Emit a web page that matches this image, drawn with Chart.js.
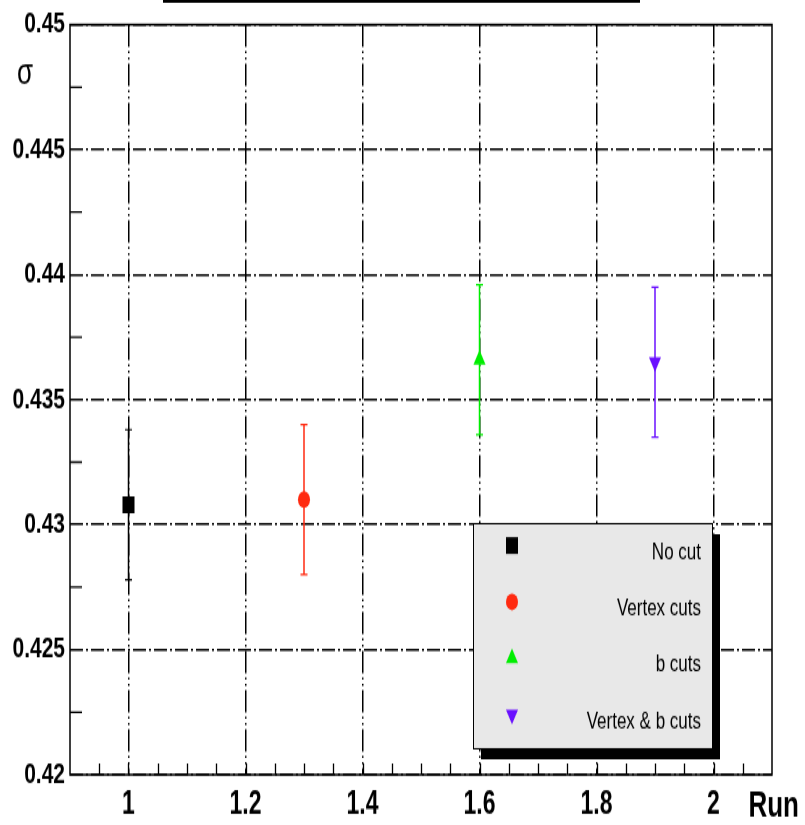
<!DOCTYPE html>
<html>
<head>
<meta charset="utf-8">
<script src="https://cdn.jsdelivr.net/npm/chart.js@4/dist/chart.umd.min.js"></script>
<style>
  html, body { margin: 0; padding: 0; background: #fff; }
  #wrap { width: 805px; height: 825px; position: relative; }
  /* the reference is vertically stretched, so draw flat and stretch the canvas */
  #sigmaChart { position: absolute; left: 0; top: 0; transform: scaleY(1.3983); transform-origin: 0 0; }
</style>
</head>
<body>
<div id="wrap"><canvas id="sigmaChart" width="805" height="590"></canvas></div>
<script>
// ---- data ----
const runLabels = ['No cut', 'Vertex cuts', 'b cuts', 'Vertex & b cuts'];
const runX = [1.0, 1.3, 1.6, 1.9];
const sigma = [0.4308, 0.4310, 0.4366, 0.4365];
const sigmaErr = [0.0030, 0.0030, 0.0030, 0.0030];

const xTicks = [1, 1.2, 1.4, 1.6, 1.8, 2];
const xTickLabels = ['1', '1.2', '1.4', '1.6', '1.8', '2'];
const yTicks = [0.42, 0.425, 0.43, 0.435, 0.44, 0.445, 0.45];
const yTickLabels = ['0.42', '0.425', '0.43', '0.435', '0.44', '0.445', '0.45'];

// ---- styles ----
const seriesColors = ['#000000', '#ff2a10', '#00ee00', '#6a10ff'];
const seriesStyles = ['rect', 'circle', 'triangle', 'triangle'];
const seriesRotation = [0, 0, 0, 180];
const seriesRadius = [8.5, 6, 7, 7];

const FONT = '"Liberation Sans", Arial, Helvetica, sans-serif';
const GRID_DASH_H = [13, 3, 2, 3];
const GRID_DASH_V = [16, 3, 1.5, 3, 1.5, 3];

function drawMarker(ctx, i, x, y) {
    const r = seriesRadius[i];
    ctx.save();
    ctx.fillStyle = seriesColors[i];
    ctx.beginPath();
    if (seriesStyles[i] === 'rect') {
        const h = Math.SQRT1_2 * r;
        ctx.rect(x - h, y - h, 2 * h, 2 * h);
    } else if (seriesStyles[i] === 'circle') {
        ctx.arc(x, y, r, 0, Math.PI * 2);
    } else {
        let a = seriesRotation[i] * Math.PI / 180;
        ctx.moveTo(x + Math.sin(a) * r, y - Math.cos(a) * r);
        for (let k = 0; k < 2; k++) {
            a += Math.PI * 2 / 3;
            ctx.lineTo(x + Math.sin(a) * r, y - Math.cos(a) * r);
        }
        ctx.closePath();
    }
    ctx.fill();
    ctx.restore();
}

// error bars with small caps
const errorBars = {
    id: 'errorBars',
    beforeDatasetsDraw(chart) {
        const ctx = chart.ctx;
        const yScale = chart.scales.y;
        chart.data.datasets.forEach((ds, di) => {
            const meta = chart.getDatasetMeta(di);
            meta.data.forEach((pt, j) => {
                const v = ds.data[j].y;
                const e = ds.errors[j];
                const yTop = yScale.getPixelForValue(v + e);
                const yBot = yScale.getPixelForValue(v - e);
                ctx.save();
                ctx.strokeStyle = ds.borderColor;
                ctx.lineWidth = 1.5;
                ctx.beginPath();
                ctx.moveTo(pt.x, yTop);
                ctx.lineTo(pt.x, yBot);
                ctx.stroke();
                ctx.lineWidth = 1.2;
                ctx.beginPath();
                ctx.moveTo(pt.x - 3.5, yTop);
                ctx.lineTo(pt.x + 3.5, yTop);
                ctx.moveTo(pt.x - 3.5, yBot);
                ctx.lineTo(pt.x + 3.5, yBot);
                ctx.stroke();
                ctx.restore();
            });
        });
    }
};

// frame, minor ticks, axis titles, legend box
const decorations = {
    id: 'decorations',
    afterDraw(chart) {
        const ctx = chart.ctx;
        const a = chart.chartArea;
        const xs = chart.scales.x, ys = chart.scales.y;
        ctx.save();

        // minor ticks
        ctx.strokeStyle = '#000';
        ctx.lineWidth = 1.3;
        ctx.beginPath();
        for (let v = 0.95; v < 2.1; v += 0.05) {
            const px = Math.round(xs.getPixelForValue(v)) + 0.5;
            ctx.moveTo(px, a.bottom);
            ctx.lineTo(px, a.bottom - 8);
        }
        for (let v = 0.4225; v < 0.45; v += 0.005) {
            const py = ys.getPixelForValue(v);
            ctx.moveTo(a.left, py);
            ctx.lineTo(a.left + 12, py);
        }
        ctx.stroke();

        // frame
        ctx.lineWidth = 1.5;
        ctx.strokeRect(a.left, a.top, a.right - a.left, a.bottom - a.top);

        // bottom edge of the (cropped) title box
        ctx.fillStyle = '#000';
        ctx.fillRect(163, 0, 477, 2);

        // axis titles
        ctx.fillStyle = '#000';
        ctx.font = '26px ' + FONT;
        ctx.textAlign = 'center';
        ctx.textBaseline = 'middle';
        ctx.fillText('σ', 25, 53);
        ctx.font = 'bold 26px ' + FONT;
        ctx.textAlign = 'right';
        ctx.textBaseline = 'alphabetic';
        ctx.fillText('Run', 799, 584);

        // legend
        const L = { x: 473, y: 374, w: 239, h: 161 };
        ctx.fillStyle = '#000';
        ctx.fillRect(L.x + 8, L.y + 8, L.w, L.h);
        ctx.fillStyle = '#e8e8e8';
        ctx.fillRect(L.x, L.y, L.w, L.h);
        ctx.lineWidth = 1;
        ctx.strokeStyle = '#000';
        ctx.strokeRect(L.x + 0.5, L.y + 0.5, L.w, L.h);
        ctx.font = '17px ' + FONT;
        ctx.textAlign = 'right';
        ctx.textBaseline = 'middle';
        const rowH = L.h / runLabels.length;
        runLabels.forEach((label, i) => {
            const cy = L.y + rowH * (i + 0.5);
            drawMarker(ctx, i, 512, cy - 4);
            ctx.fillStyle = '#000';
            ctx.fillText(label, 701, cy + 1);
        });
        ctx.restore();
    }
};

const datasets = runLabels.map((label, i) => ({
    label: label,
    data: [{ x: runX[i], y: sigma[i] }],
    errors: [sigmaErr[i]],
    borderColor: seriesColors[i],
    backgroundColor: seriesColors[i],
    pointStyle: seriesStyles[i],
    rotation: seriesRotation[i],
    pointRadius: seriesRadius[i],
    pointBorderWidth: 0,
    pointHoverRadius: seriesRadius[i],
    showLine: false
}));

new Chart(document.getElementById('sigmaChart'), {
    type: 'scatter',
    data: { datasets: datasets },
    plugins: [errorBars, decorations],
    options: {
        responsive: false,
        animation: false,
        layout: { padding: { top: 15, right: 33, left: 0, bottom: 0 } },
        plugins: {
            legend: { display: false },
            tooltip: { enabled: false }
        },
        scales: {
            x: {
                type: 'linear',
                min: 0.9,
                max: 2.1,
                afterBuildTicks: (scale) => { scale.ticks = xTicks.map(v => ({ value: v })); },
                afterFit: (scale) => { scale.height = 36; },
                grid: { color: '#000', lineWidth: 1.5, drawTicks: false },
                border: { display: false, dash: GRID_DASH_V },
                ticks: {
                    autoSkip: false,
                    maxRotation: 0,
                    padding: 8,
                    color: '#000',
                    font: { family: FONT, size: 23, weight: 'bold' },
                    callback: (v, idx) => xTickLabels[idx]
                }
            },
            y: {
                type: 'linear',
                min: 0.42,
                max: 0.45,
                afterBuildTicks: (scale) => { scale.ticks = yTicks.map(v => ({ value: v })); },
                afterFit: (scale) => { scale.width = 70; },
                grid: { color: '#000', lineWidth: 1.5, drawTicks: false },
                border: { display: false, dash: GRID_DASH_H },
                ticks: {
                    autoSkip: false,
                    padding: 5,
                    color: '#000',
                    font: { family: FONT, size: 21, weight: 'bold' },
                    callback: (v, idx) => yTickLabels[idx]
                }
            }
        }
    }
});
</script>
</body>
</html>
